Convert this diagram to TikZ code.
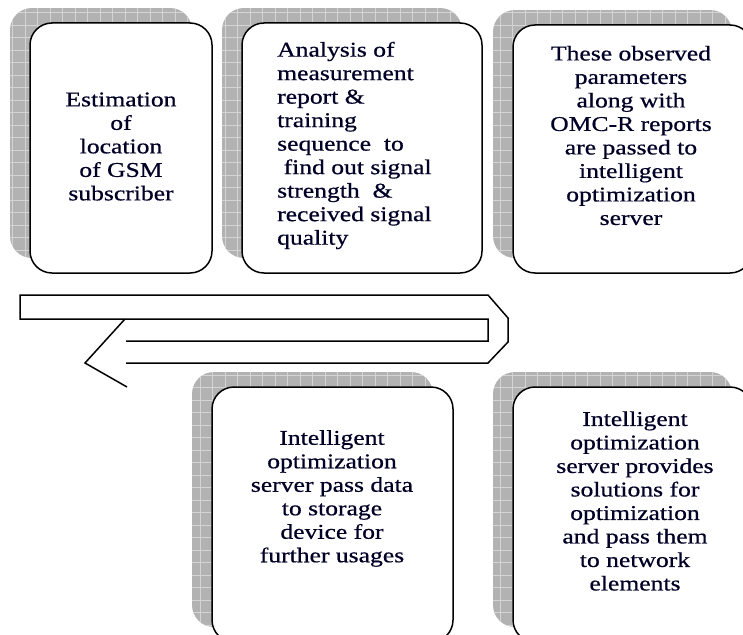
\documentclass[tikz,border=0pt]{standalone}
\usepackage{fontspec}
\setmainfont{Liberation Serif}[FakeStretch=1.22,FakeBold=0.6]
\tikzset{
  boxline/.style={draw=black, line width=1.5pt, rounded corners=22pt, fill=white},
  shadowfill/.style={fill=black!30},
  gridline/.style={draw=black!17, line width=0.45pt},
  arrowline/.style={draw=black, line width=1.5pt, line join=miter},
  txt/.style={inner sep=0pt, text=black!85!blue, font=\fontsize{21}{23.5}\selectfont},
}
\newcommand\gbox[4]{%
  \begin{scope}
    \path[clip, rounded corners=22pt] (#1-20,#2-15) rectangle (#3-20,#4-15);
    \fill[shadowfill] (#1-20,#2-15) rectangle (#3-20,#4-15);
    \draw[gridline, step=12.5pt] (#1-25,#2-20) grid (#3-15,#4-10);
  \end{scope}
  \path[boxline] (#1,#2) rectangle (#3,#4);
}
\begin{document}
\begin{tikzpicture}[x=1pt,y=-1pt]
\useasboundingbox (0,0) rectangle (743,634);
\fill[white] (0,0) rectangle (743,634);
% boxes
\gbox{30}{23}{212}{273}
\gbox{242}{23}{482}{273}
\gbox{513}{25}{752}{273}
\gbox{212}{387}{453}{642}
\gbox{513}{387}{752}{642}
% texts
\node[txt, align=center] (t1) at (121,146.5) {Estimation\\of\\location\\of GSM\\subscriber};
\node[txt, align=left, anchor=west] (t2) at (277,145.5) {Analysis of\\measurement\\report \&\\training\\sequence\ \ to\\\ find out signal\\strength\ \ \&\\received signal\\quality};
\node[txt, align=center] (t3) at (631,135.5) {These observed\\parameters\\along with\\OMC-R reports\\are passed to\\intelligent\\optimization\\server};
\node[txt, align=center] (t4) at (332,498.5) {Intelligent\\optimization\\server pass data\\to storage\\device for\\further usages};
\node[txt, align=center] (t5) at (635,501) {Intelligent\\optimization\\server provides\\solutions for\\optimization\\and pass them\\to network\\elements};
% U-turn arrow
\coordinate (a1) at (126,341);
\coordinate (a2) at (126,363);
\draw[arrowline] (a1) -- (488,341) -- (488,319) -- (20,319) -- (20,295) -- (488,295) -- (508,318) -- (508,342) -- (488,363) -- (a2);
\coordinate (h1) at (125,319);
\coordinate (h2) at (85,363);
\coordinate (h3) at (127,387);
\draw[arrowline] (h1) -- (h2) -- (h3);
\end{tikzpicture}
\end{document}
